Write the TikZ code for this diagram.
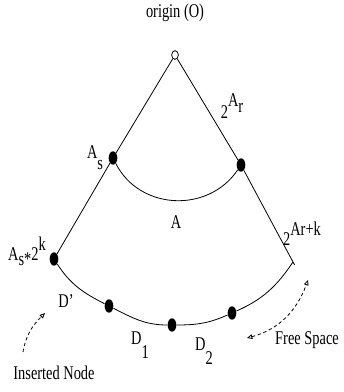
\documentclass[tikz,border=0pt]{standalone}
\usepackage{fontspec}
\setmainfont{Liberation Serif}
\usetikzlibrary{calc}
\usetikzlibrary{arrows.meta}
\usetikzlibrary{shapes.geometric}
\newcommand{\tl}[1]{\scalebox{1}[1.35]{#1}}

\begin{document}
\begin{tikzpicture}[x=0.75pt,y=0.75pt,inner sep=0pt,line width=0.6pt,
  blob/.style={ellipse,fill,minimum width=6.5pt,minimum height=10pt},
  lbl/.style={font=\fontsize{10.8}{12}\selectfont},
  >={Triangle[open,length=4pt,width=3.5pt]}]
\useasboundingbox (0,0) rectangle (343,392);
\node[ellipse,draw,fill=white,minimum width=5pt,minimum height=6.5pt] (o) at (175,337) {};
\node[blob] (as) at (113,234) {};
\node[blob] (ar) at (241,227) {};
\node[blob] (ask) at (54,133) {};
\node[blob] (dp) at (109,86) {};
\node[blob] (d1) at (172,67) {};
\node[blob] (d2) at (232,79) {};
\coordinate (re) at (293,130);

\draw (o) -- (as) -- (ask);
\draw (o) -- (ar) -- ($(ar)!1.03!(re)$);
\draw (as) to[out=-63,in=236,looseness=1.1] (ar);
\draw (ask) to[out=-57,in=153] (dp) to[out=-27,in=180] (d1)
  to[out=0,in=204] (d2) to[out=24,in=236] (re);

% labels
\node[lbl] (lorg) at (175,379) {\tl{origin (O)}};
\node[lbl] (las) at (95,234) {\tl{A\raisebox{-1.2ex}{s}}};
\node[lbl] (lar) at (232,286) {\tl{2\raisebox{1.3ex}{A\raisebox{-0.7ex}{r}}}};
\node[lbl] (la) at (176,170) {\tl{A}};
\node[lbl] (lark) at (302,158) {\tl{2\raisebox{1.1ex}{Ar+k}}};
\node[lbl] (lask) at (27,141) {\tl{A\raisebox{-0.5ex}{s*}2\raisebox{1.2ex}{k}}};
\node[lbl] (ldp) at (66,91) {\tl{D'}};
\node[lbl] (ld1) at (140,47) {\tl{D\raisebox{-1.5ex}{1}}};
\node[lbl] (ld2) at (204,41) {\tl{D\raisebox{-1.5ex}{2}}};
\node[lbl] (lfs) at (307,52) {\tl{Free Space}};
\node[lbl] (lin) at (54,19) {\tl{Inserted Node}};

% dashed pointers
\coordinate (in1) at (23,40);
\coordinate (in2) at (45,79);
\draw[dash pattern=on 2.5pt off 2pt,->] (in1) to[out=80,in=225] (in2);
\coordinate (fs1) at (247,54);
\coordinate (fs2) at (308,112);
\draw[dash pattern=on 2.5pt off 2pt,<->] (fs1) to[out=15,in=-110] (fs2);
\end{tikzpicture}
\end{document}
